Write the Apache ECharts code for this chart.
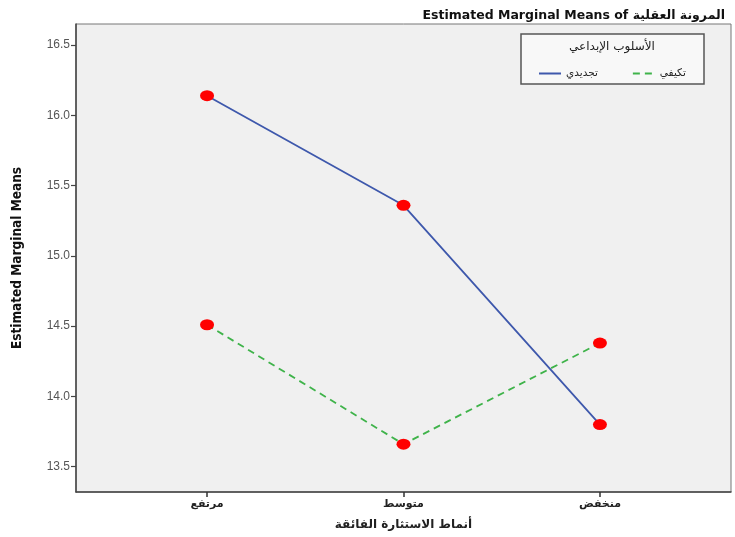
<!DOCTYPE html>
<html><head><meta charset="utf-8">
<script src="https://cdn.jsdelivr.net/npm/echarts@6/dist/echarts.min.js"></script>
<style>html,body{margin:0;padding:0;background:#fff}#c{width:735px;height:537px}</style>
</head><body><div id="c"></div>
<script>
const categories = ['مرتفع', 'متوسط', 'منخفض'];
const seriesNames = ['تجديدي', 'تكيفي'];
const innovative = [16.14, 15.36, 13.80];
const adaptive = [14.51, 13.66, 14.38];
const yTicks = [13.5, 14.0, 14.5, 15.0, 15.5, 16.0, 16.5];

const toXY = arr => arr.map((v, i) => [i, v]);
const chart = echarts.init(document.getElementById('c'));
chart.setOption({
  backgroundColor: '#ffffff',
  animation: false,
  title: {
    text: 'Estimated Marginal Means of المرونة العقلية',
    right: 5, top: 4,
    textStyle: { fontFamily: 'DejaVu Sans', fontSize: 12.5, fontWeight: 'bold', color: '#111' }
  },
  grid: {
    left: 76, right: 4, top: 24, bottom: 45,
    show: true, backgroundColor: '#f0f0f0', borderColor: '#777', borderWidth: 1
  },
  xAxis: {
    type: 'value', min: -0.667, max: 2.667,
    name: 'أنماط الاستثارة الفائقة', nameLocation: 'middle', nameGap: 27,
    nameTextStyle: { fontFamily: 'DejaVu Sans', fontSize: 12, fontWeight: 'bold', color: '#222' },
    axisLine: { show: true, onZero: false, lineStyle: { color: '#444', width: 1.5 } },
    axisTick: { show: true, length: 5, customValues: [0, 1, 2], lineStyle: { color: '#333', width: 1.5 } },
    axisLabel: { customValues: [0, 1, 2], formatter: v => categories[Math.round(v)], margin: 7,
      fontFamily: 'DejaVu Sans', fontSize: 11, fontWeight: 'bold', color: '#222' },
    splitLine: { show: false }
  },
  yAxis: {
    type: 'value', min: 13.32, max: 16.65,
    name: 'Estimated Marginal Means', nameLocation: 'middle', nameGap: 52,
    nameTextStyle: { fontFamily: 'DejaVu Sans Condensed', fontSize: 13.5, fontWeight: 'bold', color: '#111' },
    axisLine: { show: true, onZero: false, lineStyle: { color: '#444', width: 1.5 } },
    axisTick: { show: true, length: 5, customValues: yTicks, lineStyle: { color: '#444', width: 1.2 } },
    axisLabel: { customValues: yTicks, formatter: v => v.toFixed(1), margin: 6,
      fontFamily: 'Liberation Sans', fontSize: 12, color: '#555' },
    splitLine: { show: false }
  },
  legend: {
    data: seriesNames,
    left: 533, top: 63, itemWidth: 22, itemHeight: 10, itemGap: 34,
    itemStyle: { opacity: 0 },
    textStyle: { fontFamily: 'DejaVu Sans', fontSize: 10.5, color: '#222' }
  },
  graphic: [
    { type: 'rect', shape: { x: 521, y: 34, width: 183, height: 50 },
      style: { fill: '#f8f8f8', stroke: '#555', lineWidth: 1.5 }, z: 0 },
    { type: 'text', x: 612, y: 47, style: { text: 'الأسلوب الإبداعي', textAlign: 'center', textVerticalAlign: 'middle',
      font: '12px "DejaVu Sans"', fill: '#222' }, z: 1 }
  ],
  series: [
    { name: seriesNames[0], type: 'line', data: toXY(innovative), symbol: 'none',
      lineStyle: { color: '#3e58ac', width: 1.8 }, itemStyle: { color: '#3e58ac' } },
    { name: seriesNames[1], type: 'line', data: toXY(adaptive), symbol: 'none',
      lineStyle: { color: '#3fb34a', width: 1.8, type: [7, 5] }, itemStyle: { color: '#3fb34a' } },
    { name: 'm1', type: 'scatter', data: toXY(innovative), symbol: 'circle', symbolSize: [14, 11],
      itemStyle: { color: '#ff0000', opacity: 1 }, z: 5 },
    { name: 'm2', type: 'scatter', data: toXY(adaptive), symbol: 'circle', symbolSize: [14, 11],
      itemStyle: { color: '#ff0000', opacity: 1 }, z: 5 }
  ]
});
</script></body></html>
